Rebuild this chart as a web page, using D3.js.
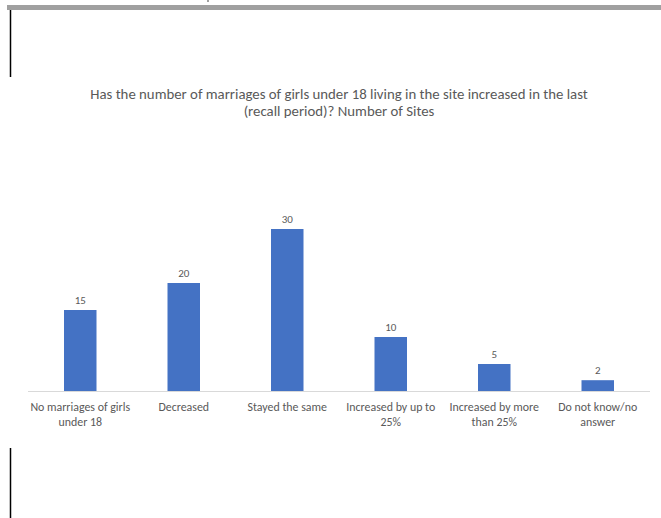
<!DOCTYPE html>
<html>
<head>
<meta charset="utf-8">
<script src="https://cdn.jsdelivr.net/npm/d3@7"></script>
<style>
  html, body { margin: 0; padding: 0; background: #fff; }
  svg { display: block; }
  text { font-family: Carlito, Lato, "Open Sans", sans-serif; fill: #595959; }
</style>
</head>
<body>
<svg id="chart" width="661" height="518"></svg>
<script>
const categories = [
  ["No marriages of girls", "under 18"],
  ["Decreased"],
  ["Stayed the same"],
  ["Increased by up to", "25%"],
  ["Increased by more", "than 25%"],
  ["Do not know/no", "answer"]
];
const values = [15, 20, 30, 10, 5, 2];
const titleLines = [
  "Has the number of marriages of girls under 18 living in the site increased in the last",
  "(recall period)? Number of Sites"
];

const svg = d3.select("#chart");

// frame decorations from the source page
svg.append("rect").attr("x", 7).attr("y", 5).attr("width", 654).attr("height", 5).attr("fill", "#a0a0a0");
svg.append("rect").attr("x", 207).attr("y", 0).attr("width", 2).attr("height", 2).attr("fill", "#a0a0a0");
svg.append("line").attr("x1", 10.5).attr("x2", 10.5).attr("y1", 10).attr("y2", 77).attr("stroke", "#000").attr("stroke-width", 1.5);
svg.append("line").attr("x1", 10.5).attr("x2", 10.5).attr("y1", 448).attr("y2", 518).attr("stroke", "#000").attr("stroke-width", 1.5);

const x = d3.scaleBand().domain(d3.range(values.length)).range([28.5, 649.5]).paddingInner(0.686).paddingOuter(0.343);
const y = d3.scaleLinear().domain([0, 35]).range([391, 202]);

// title
svg.append("text").attr("x", 339).attr("y", 99).attr("text-anchor", "middle").attr("font-size", 14.8)
  .selectAll("tspan").data(titleLines).join("tspan")
  .attr("x", 339).attr("dy", (d, i) => i === 0 ? 0 : 17).text(d => d);

// baseline
svg.append("line").attr("x1", 28).attr("x2", 650).attr("y1", 391.5).attr("y2", 391.5)
  .attr("stroke", "#d9d9d9").attr("stroke-width", 1);

// bars
svg.append("g").selectAll("rect").data(values).join("rect")
  .attr("x", (d, i) => x(i))
  .attr("width", x.bandwidth())
  .attr("y", d => y(d))
  .attr("height", d => y(0) - y(d))
  .attr("fill", "#4472c4");

// value labels
svg.append("g").selectAll("text").data(values).join("text")
  .attr("x", (d, i) => x(i) + x.bandwidth() / 2)
  .attr("y", d => y(d) - 6.5)
  .attr("text-anchor", "middle")
  .attr("font-size", 11)
  .text(d => d);

// category labels
const cat = svg.append("g").selectAll("text").data(categories).join("text")
  .attr("x", (d, i) => x(i) + x.bandwidth() / 2)
  .attr("y", 411)
  .attr("text-anchor", "middle")
  .attr("font-size", 11.9);
cat.selectAll("tspan").data(d => d).join("tspan")
  .attr("x", function() { return d3.select(this.parentNode).attr("x"); })
  .attr("dy", (d, i) => i === 0 ? 0 : 15)
  .text(d => d);
</script>
</body>
</html>
